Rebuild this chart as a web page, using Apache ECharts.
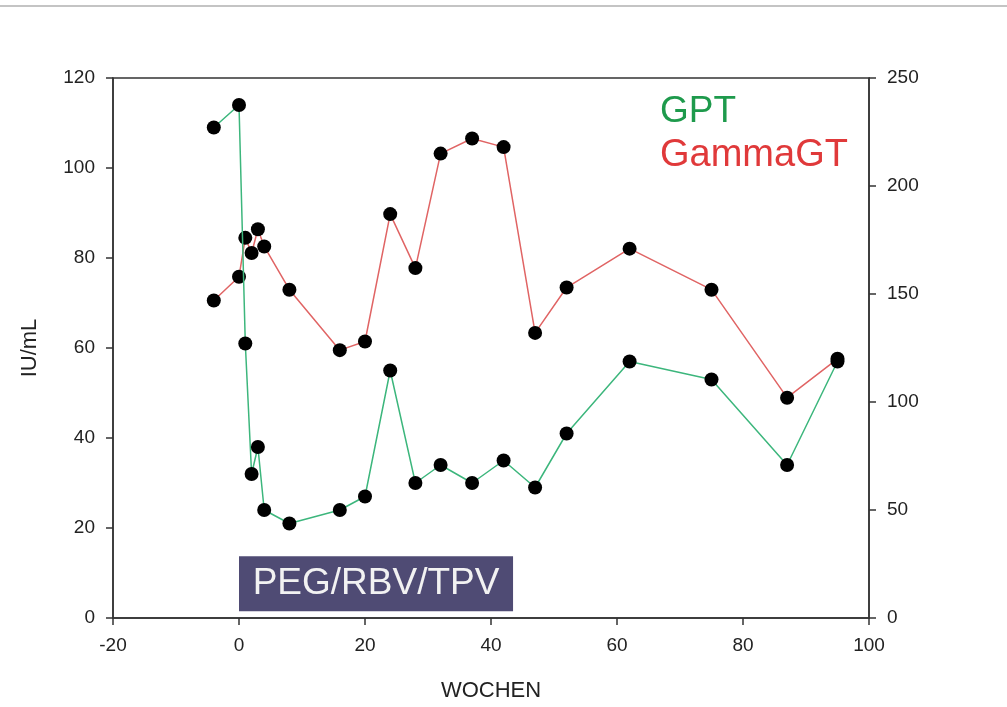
<!DOCTYPE html>
<html lang="de">
<head>
  <meta charset="UTF-8">
  <title>GPT / GammaGT</title>
  <style>
    html, body { margin: 0; padding: 0; background: #fff; }
    #chart { width: 1007px; height: 707px; }
  </style>
  <script src="https://cdn.jsdelivr.net/npm/echarts@6/dist/echarts.min.js"></script>
</head>
<body>
  <div id="chart"></div>
  <script>
    // Wochen (x) und Messwerte
    const weeks = [-4, 0, 1, 2, 3, 4, 8, 16, 20, 24, 28, 32, 37, 42, 47, 52, 62, 75, 87, 95];
    const gpt = [109, 114, 61, 32, 38, 24, 21, 24, 27, 55, 30, 34, 30, 35, 29, 41, 57, 53, 34, 57];
    const gammaGT = [147, 158, 176, 169, 180, 172, 152, 124, 128, 187, 162, 215, 222, 218, 132, 153, 171, 152, 102, 120];
    // Therapiezeitraum (Kasten unten)
    const therapyLabel = 'PEG/RBV/TPV';
    const therapyWeeks = [0, 43.5];
    const therapyBand = [1.5, 13.7];

    const font = 'Liberation Sans, Arial, sans-serif';
    const axisColor = '#333';

    const chart = echarts.init(document.getElementById('chart'));

    const toPairs = (ys) => weeks.map((w, i) => [w, ys[i]]);

    const option = {
      animation: false,
      textStyle: { fontFamily: font },
      grid: {
        left: 113, right: 138, top: 78, bottom: 88,
        show: true, borderColor: axisColor, borderWidth: 1.5,
        backgroundColor: 'transparent'
      },
      xAxis: {
        type: 'value', min: -20, max: 100, interval: 20,
        name: 'WOCHEN', nameLocation: 'middle', nameGap: 62,
        nameTextStyle: { fontSize: 22, color: '#222', fontFamily: font },
        axisLine: { onZero: false, lineStyle: { color: axisColor, width: 1.5 } },
        axisTick: { length: 7, lineStyle: { color: axisColor, width: 1.5 } },
        axisLabel: { fontSize: 19, color: '#222', margin: 18, fontFamily: font },
        splitLine: { show: false }
      },
      yAxis: [
        {
          type: 'value', min: 0, max: 120, interval: 20,
          name: 'IU/mL', nameLocation: 'middle', nameGap: 72,
          nameTextStyle: { fontSize: 22, color: '#222', fontFamily: font },
          axisLine: { show: true, onZero: false, lineStyle: { color: axisColor, width: 1.5 } },
          axisTick: { show: true, length: 7, lineStyle: { color: axisColor, width: 1.5 } },
          axisLabel: { fontSize: 19, color: '#222', margin: 18, fontFamily: font },
          splitLine: { show: false }
        },
        {
          type: 'value', min: 0, max: 250, interval: 50, position: 'right',
          axisLine: { show: true, onZero: false, lineStyle: { color: axisColor, width: 1.5 } },
          axisTick: { show: true, length: 7, lineStyle: { color: axisColor, width: 1.5 } },
          axisLabel: { fontSize: 19, color: '#222', margin: 18, fontFamily: font },
          splitLine: { show: false }
        }
      ],
      graphic: [
        {
          type: 'line', shape: { x1: 0, y1: 6, x2: 1007, y2: 6 },
          style: { stroke: '#c4c4c4', lineWidth: 2 }
        },
        {
          type: 'text', left: 660, top: 93,
          style: { text: 'GPT', fill: '#1e9a4c', font: '37px ' + font }
        },
        {
          type: 'text', left: 660, top: 137,
          style: { text: 'GammaGT', fill: '#e0393a', font: '38px ' + font }
        }
      ],
      series: [
        {
          name: 'GPT', type: 'line', yAxisIndex: 0,
          data: toPairs(gpt),
          symbol: 'circle', symbolSize: 14,
          itemStyle: { color: '#000' },
          lineStyle: { color: '#3cb67c', width: 1.5 },
          z: 3,
          markArea: {
            silent: true,
            itemStyle: { color: '#4f4b74' },
            label: {
              show: true, position: 'inside', color: '#f2f2f2',
              fontSize: 37, fontFamily: font
            },
            data: [[
              { name: therapyLabel, coord: [therapyWeeks[0], therapyBand[0]] },
              { coord: [therapyWeeks[1], therapyBand[1]] }
            ]]
          }
        },
        {
          name: 'GammaGT', type: 'line', yAxisIndex: 1,
          data: toPairs(gammaGT),
          symbol: 'circle', symbolSize: 14,
          itemStyle: { color: '#000' },
          lineStyle: { color: '#e06464', width: 1.5 },
          z: 2
        }
      ]
    };

    chart.setOption(option);
  </script>
</body>
</html>
